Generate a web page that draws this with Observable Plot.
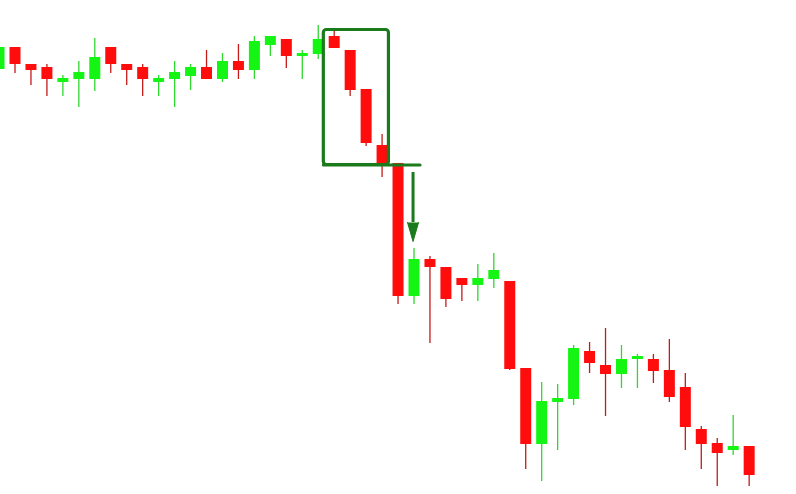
<!DOCTYPE html>
<html>
<head>
<meta charset="utf-8">
<script src="https://cdn.jsdelivr.net/npm/d3@7"></script>
<script src="https://cdn.jsdelivr.net/npm/@observablehq/plot@0.6"></script>
<style>
  html, body { margin: 0; padding: 0; background: #ffffff; overflow: hidden; }
</style>
</head>
<body>
<div id="chart"></div>
<script>
// Candle index (session number)
const idx = d3.range(48);
// Price values (arbitrary units, higher = up)
const open  = [425,447,430,427,412,415,415,447,430,427,412,415,418,427,415,433,424,449,455,438,440,458,444,405,349,331,198,235,227,216,209,215,213,126,50,92,95,143,129,120,135,135,124,107,65,51,44,48];
const close = [447,430,424,415,416,422,437,430,424,415,416,422,427,415,433,424,453,458,438,441,455,446,404,351,331,198,235,227,195,209,216,224,125,50,93,96,146,131,120,135,138,123,97,67,50,41,48,19];
const high  = [449,447,430,430,419,433,456,447,430,430,419,433,430,444,441,450,458,458,455,444,469,463,444,405,360,331,246,238,227,216,230,241,213,126,112,110,149,152,166,149,140,140,155,121,68,56,79,48];
const low   = [423,421,409,398,398,387,403,421,409,398,398,387,404,415,412,415,415,438,426,415,435,446,398,348,317,190,190,151,187,193,193,206,124,25,13,44,89,121,78,106,106,111,92,44,25,8,39,8];

// Annotation: breakout box, breakout line and arrow (in candle index / price units)
const boxX = [20.35, 24.43];
const boxY = [329.5, 464.5];
const breakLineX = [20.35, 26.41];
const breakLineY = [329.5];
const arrowX = [25.94];
const arrowShaftY = [322, 272];
const arrowHeadY = [272];

const candles = idx.map(i => ({i, open: open[i], close: close[i], high: high[i], low: low[i], up: close[i] >= open[i]}));

const bodyColor = d => d.up ? "#14f514" : "#ff0c0c";
const wickColor = d => d.up ? "#2fd82f" : "#c41a1a";
const annot = "#1b7a1b";

const spacing = 15.96;
const x0 = 1 - 14.5 / spacing;
const x1 = 1 + (796 - 14.5) / spacing;

const chart = Plot.plot({
  width: 796,
  height: 494,
  margin: 0,
  style: {background: "#ffffff"},
  x: {type: "linear", domain: [x0, x1], axis: null},
  y: {domain: [0, 494], axis: null},
  marks: [
    Plot.ruleX(candles, {x: "i", y1: "low", y2: "high", stroke: wickColor, strokeWidth: 1.3}),
    Plot.ruleX(candles, {x: "i", y1: "open", y2: "close", stroke: bodyColor, strokeWidth: 11}),
    Plot.rect([0], {x1: () => boxX[0], x2: () => boxX[1], y1: () => boxY[0], y2: () => boxY[1], fill: "none", stroke: annot, strokeWidth: 3.2, rx: 3}),
    Plot.ruleY(breakLineY, {x1: breakLineX[0], x2: breakLineX[1], y: d => d, stroke: annot, strokeWidth: 3, strokeLinecap: "round"}),
    Plot.ruleX(arrowX, {x: d => d, y1: arrowShaftY[0], y2: arrowShaftY[1], stroke: annot, strokeWidth: 3}),
    Plot.vector(arrowX, {x: d => d, y: arrowHeadY[0], length: 19, rotate: 180, shape: "spike", r: 5.5, anchor: "start", fill: annot, stroke: annot, strokeWidth: 1})
  ]
});
document.getElementById("chart").appendChild(chart);
</script>
</body>
</html>
